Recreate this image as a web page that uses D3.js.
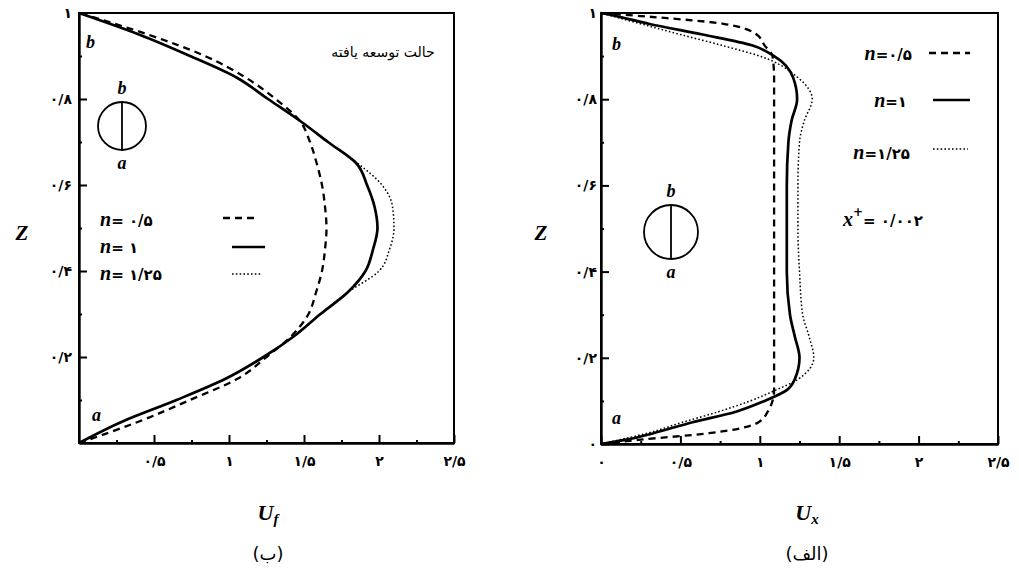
<!DOCTYPE html>
<html>
<head>
<meta charset="utf-8">
<script src="https://cdn.jsdelivr.net/npm/d3@7"></script>
<style>
body { margin: 0; background: #fff; }
svg { display: block; }
.tick text { font-family: "DejaVu Sans"; font-weight: bold; font-size: 14px; fill: #000; }
.tick line { stroke: #000; stroke-width: 2; }
.domain { stroke: #000; stroke-width: 2.4; }
</style>
</head>
<body>
<svg id="chart" width="1019" height="569"></svg>
<script>
// left panel (b): developed profile Uf over Z
var zLeft = [0, 0.05, 0.1, 0.15, 0.2, 0.25, 0.3, 0.35, 0.4, 0.45, 0.5, 0.55, 0.6, 0.65, 0.7, 0.75, 0.8, 0.85, 0.9, 0.95, 1];
var ufDashed = [0, 0.40, 0.74, 1.06, 1.25, 1.42, 1.53, 1.58, 1.62, 1.64, 1.65, 1.64, 1.62, 1.585, 1.54, 1.47, 1.31, 1.11, 0.84, 0.46, 0];
var ufSolid  = [0, 0.29, 0.65, 0.98, 1.23, 1.44, 1.61, 1.79, 1.91, 1.96, 1.99, 1.97, 1.92, 1.85, 1.66, 1.47, 1.26, 1.05, 0.74, 0.40, 0];
var ufDotted = [0, 0.29, 0.65, 0.98, 1.23, 1.44, 1.61, 1.79, 2.00, 2.07, 2.10, 2.09, 2.02, 1.86, 1.66, 1.47, 1.26, 1.05, 0.74, 0.40, 0];

// right panel (alef): Ux over Z at x+ = 0.002
var zRight = [0, 0.01, 0.025, 0.05, 0.075, 0.1, 0.125, 0.15, 0.2, 0.25, 0.3, 0.4, 0.5, 0.6, 0.7, 0.75, 0.8, 0.85, 0.9, 0.925, 0.95, 0.975, 0.99, 1];
var uxDashed = [0, 0.25, 0.68, 0.99, 1.05, 1.08, 1.09, 1.09, 1.09, 1.09, 1.09, 1.09, 1.09, 1.09, 1.09, 1.09, 1.09, 1.09, 1.08, 1.03, 0.98, 0.77, 0.35, 0];
var uxSolid  = [0, 0.16, 0.33, 0.57, 0.85, 1.03, 1.17, 1.22, 1.25, 1.22, 1.19, 1.17, 1.17, 1.17, 1.18, 1.20, 1.235, 1.21, 1.09, 0.95, 0.64, 0.30, 0.13, 0];
var uxDotted = [0, 0.12, 0.29, 0.51, 0.74, 0.94, 1.10, 1.24, 1.34, 1.31, 1.27, 1.25, 1.24, 1.24, 1.25, 1.28, 1.33, 1.24, 1.00, 0.76, 0.50, 0.25, 0.10, 0];

var nLabels = ['۰/۵', '۱', '۱/۲۵'];
var xMajor = [0.5, 1, 1.5, 2, 2.5];
var xMinor = [0.25, 0.75, 1.25, 1.75, 2.25];
var zMajor = [0.2, 0.4, 0.6, 0.8, 1];
var zMinor = [0.1, 0.3, 0.5, 0.7, 0.9];

var styles = [
    { width: 2.3, dash: '7,5' },
    { width: 2.7, dash: null },
    { width: 1.5, dash: '1.6,2.2' }
];

function faNum(d) {
    return String(d).replace('.', '/').replace(/[0-9]/g, function (c) { return '۰۱۲۳۴۵۶۷۸۹'[+c]; });
}

var svg = d3.select('#chart');

function drawPanel(cfg) {
    var x = d3.scaleLinear().domain([0, 2.5]).range([cfg.left, cfg.right]);
    var y = d3.scaleLinear().domain([0, 1]).range([cfg.bottom, cfg.top]);
    var g = svg.append('g');

    g.append('rect')
        .attr('x', cfg.left).attr('y', cfg.top)
        .attr('width', cfg.right - cfg.left).attr('height', cfg.bottom - cfg.top)
        .attr('fill', 'none').attr('stroke', '#000').attr('stroke-width', 2);

    // minor ticks
    g.append('g').attr('transform', 'translate(0,' + cfg.bottom + ')')
        .call(d3.axisBottom(x).tickValues(xMinor).tickSize(-3).tickFormat(''))
        .call(function (s) { s.select('.domain').remove(); });
    g.append('g').attr('transform', 'translate(' + cfg.left + ',0)')
        .call(d3.axisLeft(y).tickValues(zMinor).tickSize(-3).tickFormat(''))
        .call(function (s) { s.select('.domain').remove(); });

    // major ticks + labels
    g.append('g').attr('transform', 'translate(0,' + cfg.bottom + ')')
        .call(d3.axisBottom(x).tickValues(cfg.xTicks).tickSize(-8).tickSizeOuter(0).tickPadding(13).tickFormat(faNum));
    g.append('g').attr('transform', 'translate(' + cfg.left + ',0)')
        .call(d3.axisLeft(y).tickValues(cfg.zTicks).tickSize(-8).tickSizeOuter(0).tickPadding(cfg.yPad).tickFormat(faNum));

    var sets = [cfg.dashed, cfg.solid, cfg.dotted];
    var order = [2, 0, 1];
    order.forEach(function (k) {
        var pts = cfg.z.map(function (z, i) { return { z: z, u: sets[k][i] }; });
        var line = d3.line().x(function (d) { return x(d.u); }).y(function (d) { return y(d.z); }).curve(d3.curveMonotoneY);
        g.append('path').attr('d', line(pts))
            .attr('fill', 'none').attr('stroke', '#000')
            .attr('stroke-width', styles[k].width)
            .attr('stroke-dasharray', styles[k].dash);
    });

    // pipe cross-section sketch
    g.append('circle').attr('cx', cfg.circle[0]).attr('cy', cfg.circle[1]).attr('r', cfg.circle[2])
        .attr('fill', 'none').attr('stroke', '#000').attr('stroke-width', 1.8);
    g.append('line').attr('x1', cfg.circle[0]).attr('x2', cfg.circle[0])
        .attr('y1', cfg.circle[1] - cfg.circle[2]).attr('y2', cfg.circle[1] + cfg.circle[2])
        .attr('stroke', '#000').attr('stroke-width', 1.8);
    italic(g, cfg.circle[0], cfg.circle[1] - cfg.circle[2] - 8, 'b', 18, 'middle');
    italic(g, cfg.circle[0], cfg.circle[1] + cfg.circle[2] + 19, 'a', 18, 'middle');
    italic(g, cfg.cornerB[0], cfg.cornerB[1], 'b', 18, 'start');
    italic(g, cfg.cornerA[0], cfg.cornerA[1], 'a', 18, 'start');

    // Z label
    italic(g, cfg.zLabel[0], cfg.zLabel[1], 'Z', 21, 'middle');
    return { x: x, y: y, g: g };
}

function italic(g, px, py, txt, size, anchor) {
    return g.append('text').attr('x', px).attr('y', py).attr('text-anchor', anchor)
        .attr('font-family', 'Liberation Serif').attr('font-style', 'italic').attr('font-weight', 'bold')
        .attr('font-size', size).text(txt);
}

function legendRow(g, tx, ty, anchor, label, k, lx1, lx2, ly) {
    var t = g.append('text').attr('x', tx).attr('y', ty).attr('text-anchor', anchor);
    t.append('tspan').attr('font-family', 'Liberation Serif').attr('font-style', 'italic')
        .attr('font-weight', 'bold').attr('font-size', 20).text('n');
    t.append('tspan').attr('font-family', 'DejaVu Sans').attr('font-weight', 'bold')
        .attr('font-size', 15).text(label);
    g.append('line').attr('x1', lx1).attr('x2', lx2).attr('y1', ly).attr('y2', ly)
        .attr('stroke', '#000').attr('stroke-width', styles[k].width)
        .attr('stroke-dasharray', styles[k].dash);
}

var left = drawPanel({
    left: 79, right: 454, top: 13, bottom: 443,
    xTicks: xMajor, zTicks: zMajor, yPad: 7,
    z: zLeft, dashed: ufDashed, solid: ufSolid, dotted: ufDotted,
    circle: [122, 126, 24], cornerB: [86, 48], cornerA: [92, 421], zLabel: [22, 240]
});

var right = drawPanel({
    left: 601, right: 998, top: 13, bottom: 444,
    xTicks: [0].concat(xMajor), zTicks: [0].concat(zMajor), yPad: 4,
    z: zRight, dashed: uxDashed, solid: uxSolid, dotted: uxDotted,
    circle: [671, 232, 27], cornerB: [612, 50], cornerA: [612, 424], zLabel: [541, 240]
});

// left legend
legendRow(left.g, 100, 226, 'start', '= ' + nLabels[0], 0, 223, 258, 218);
legendRow(left.g, 100, 253, 'start', '=  ' + nLabels[1], 1, 232, 265, 247);
legendRow(left.g, 100, 280, 'start', '= ' + nLabels[2], 2, 232, 262, 274);

left.g.append('text').attr('x', 383).attr('y', 57).attr('text-anchor', 'middle')
    .attr('font-family', 'DejaVu Sans').attr('font-size', 14).text('حالت توسعه یافته');

// right legend
legendRow(right.g, 912, 60, 'end', '=' + nLabels[0], 0, 929, 970, 53);
legendRow(right.g, 907, 107, 'end', '=' + nLabels[1], 1, 933, 970, 100);
legendRow(right.g, 910, 159, 'end', '=' + nLabels[2], 2, 933, 968, 149);

var xp = right.g.append('text').attr('x', 843).attr('y', 226);
xp.append('tspan').attr('font-family', 'Liberation Serif').attr('font-style', 'italic')
    .attr('font-weight', 'bold').attr('font-size', 20).text('x');
xp.append('tspan').attr('font-family', 'DejaVu Sans').attr('font-weight', 'bold')
    .attr('font-size', 12).attr('dy', -10).text('+');
xp.append('tspan').attr('font-family', 'DejaVu Sans').attr('font-weight', 'bold')
    .attr('font-size', 15).attr('dy', 10).text('=  ۰/۰۰۲');

// x axis titles
function uTitle(cx, cy, sub) {
    var t = svg.append('text').attr('x', cx).attr('y', cy).attr('text-anchor', 'middle')
        .attr('font-family', 'Liberation Serif').attr('font-style', 'italic').attr('font-weight', 'bold');
    t.append('tspan').attr('font-size', 22).text('U');
    t.append('tspan').attr('font-size', 15).attr('dy', 4).text(sub);
}
uTitle(268, 520, 'f');
uTitle(807, 520, 'x');

// captions
svg.append('text').attr('x', 268).attr('y', 560).attr('text-anchor', 'middle')
    .attr('font-family', 'DejaVu Sans').attr('font-size', 18).text('(ب)');
svg.append('text').attr('x', 807).attr('y', 560).attr('text-anchor', 'middle')
    .attr('font-family', 'DejaVu Sans').attr('font-size', 18).text('(الف)');
</script>
</body>
</html>
